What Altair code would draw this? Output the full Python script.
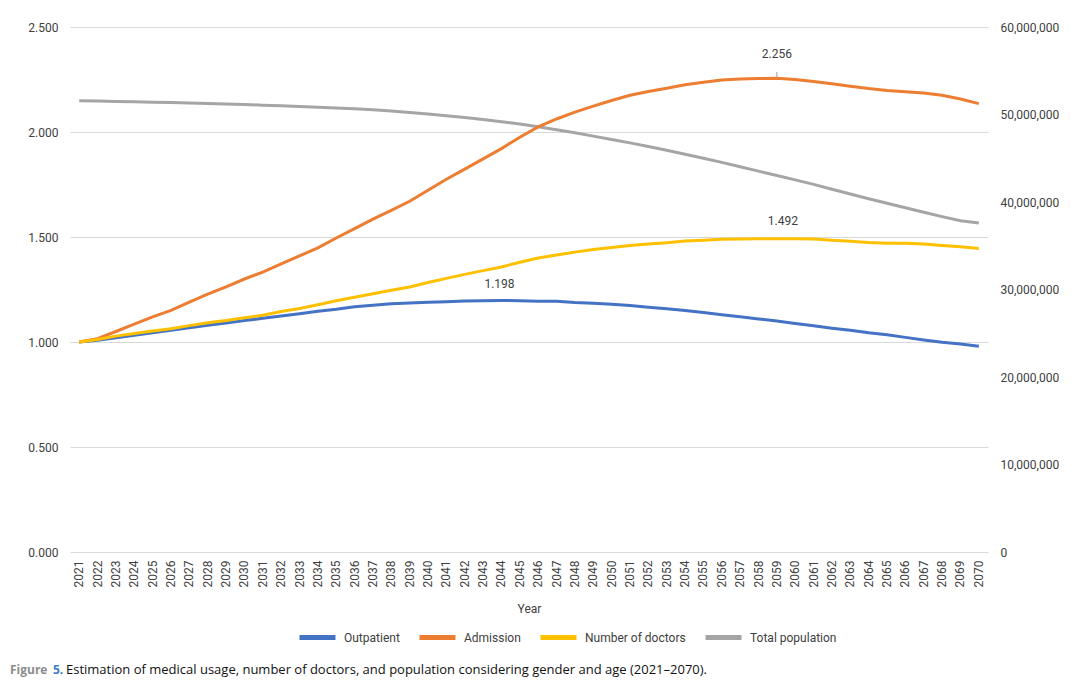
import altair as alt
import pandas as pd

years = list(range(2021, 2071))

outpatient = [1.000, 1.008, 1.020, 1.032, 1.044, 1.056, 1.068, 1.080, 1.090, 1.102,
              1.113, 1.124, 1.135, 1.146, 1.156, 1.168, 1.175, 1.182, 1.186, 1.189,
              1.192, 1.195, 1.196, 1.198, 1.196, 1.194, 1.194, 1.188, 1.185, 1.180,
              1.174, 1.166, 1.158, 1.150, 1.141, 1.130, 1.120, 1.110, 1.100, 1.088,
              1.077, 1.066, 1.056, 1.044, 1.034, 1.022, 1.010, 0.999, 0.990, 0.980]

admission = [1.000, 1.016, 1.050, 1.085, 1.120, 1.151, 1.190, 1.228, 1.263, 1.300,
             1.333, 1.372, 1.410, 1.448, 1.495, 1.540, 1.585, 1.627, 1.670, 1.723,
             1.775, 1.823, 1.872, 1.921, 1.975, 2.024, 2.062, 2.095, 2.123, 2.150,
             2.175, 2.193, 2.208, 2.225, 2.237, 2.248, 2.252, 2.255, 2.256, 2.250,
             2.240, 2.230, 2.218, 2.207, 2.198, 2.192, 2.186, 2.175, 2.157, 2.135]

doctors = [1.000, 1.012, 1.028, 1.040, 1.052, 1.063, 1.078, 1.092, 1.102, 1.115,
           1.127, 1.145, 1.160, 1.177, 1.196, 1.213, 1.230, 1.246, 1.262, 1.283,
           1.303, 1.322, 1.340, 1.357, 1.380, 1.400, 1.414, 1.428, 1.440, 1.450,
           1.460, 1.467, 1.473, 1.481, 1.485, 1.489, 1.491, 1.492, 1.492, 1.492,
           1.490, 1.484, 1.480, 1.474, 1.470, 1.470, 1.467, 1.460, 1.453, 1.445]

population = [51560000, 51540000, 51490000, 51450000, 51410000, 51360000, 51310000, 51260000, 51210000, 51140000,
              51070000, 50990000, 50910000, 50830000, 50750000, 50660000, 50530000, 50390000, 50230000, 50060000,
              49860000, 49660000, 49430000, 49180000, 48910000, 48590000, 48260000, 47910000, 47530000, 47150000,
              46760000, 46340000, 45910000, 45460000, 45010000, 44530000, 44030000, 43530000, 43030000, 42530000,
              42010000, 41460000, 40910000, 40380000, 39860000, 39340000, 38830000, 38330000, 37860000, 37590000]

series_names = ["Outpatient", "Admission", "Number of doctors", "Total population"]
series_colors = ["#4472C4", "#ED7D31", "#FFC000", "#A5A5A5"]

left_ticks = [0.0, 0.5, 1.0, 1.5, 2.0, 2.5]
right_ticks = [0, 10000000, 20000000, 30000000, 40000000, 50000000, 60000000]

label_years = [2044, 2059, 2059]
label_values = [1.198, 1.492, 2.256]
label_texts = ["1.198", "1.492", "2.256"]

caption_lead = ["Figure", "5."]
caption_text = "Estimation of medical usage, number of doctors, and population considering gender and age (2021\u20132070)."

left_df = pd.concat([
    pd.DataFrame({"Year": years, "Value": outpatient, "Series": series_names[0]}),
    pd.DataFrame({"Year": years, "Value": admission, "Series": series_names[1]}),
    pd.DataFrame({"Year": years, "Value": doctors, "Series": series_names[2]}),
], ignore_index=True)
pop_df = pd.DataFrame({"Year": years, "Value": population, "Series": series_names[3]})
lab_df = pd.DataFrame({"Year": label_years, "Value": label_values, "Label": label_texts})

FONT = "Roboto"
TXT = "#404040"

x_enc = alt.X("Year:O", title="Year",
              axis=alt.Axis(labelAngle=-90, labelAlign="right", labelBaseline="middle",
                            labelPadding=8, ticks=False, domain=False, grid=False,
                            labelFont=FONT, labelFontSize=12, labelColor=TXT,
                            titleFont=FONT, titleFontSize=12, titleFontWeight="normal",
                            titleColor=TXT, titlePadding=17))

color_enc = alt.Color("Series:N",
                      scale=alt.Scale(domain=series_names, range=series_colors),
                      legend=alt.Legend(title=None, orient="none", direction="horizontal",
                                        legendX=227, legendY=590, gridAlign="none",
                                        symbolType="stroke", symbolSize=1296,
                                        symbolStrokeWidth=5, labelFont=FONT,
                                        labelFontSize=12, labelColor=TXT,
                                        labelOffset=6, columnPadding=9))

left_scale = alt.Scale(domain=[0, 2.5], nice=False, zero=True)

left_lines = alt.Chart(left_df).mark_line(strokeWidth=3).encode(
    x=x_enc,
    y=alt.Y("Value:Q", scale=left_scale,
            axis=alt.Axis(title=None, values=left_ticks, format=".3f", grid=True,
                          gridColor="#d9d9d9", gridWidth=1, ticks=False, domain=False,
                          labelFont=FONT, labelFontSize=12, labelColor=TXT,
                          labelPadding=12)),
    color=color_enc,
)

def peak_label(i, dx, dy):
    d = lab_df.iloc[[i]]
    return alt.Chart(d).mark_text(font=FONT, fontSize=12, color=TXT, dx=dx, dy=dy).encode(
        x=alt.X("Year:O"), y=alt.Y("Value:Q", scale=left_scale), text="Label:N")

leader = alt.Chart(lab_df.iloc[[2]]).mark_rule(color="#a0a0a0", strokeWidth=1).encode(
    x=alt.X("Year:O"), y=alt.Y("Value:Q", scale=left_scale), y2=alt.value(45))

left_group = alt.layer(left_lines, peak_label(0, -2, -16), peak_label(1, 6, -18),
                       peak_label(2, 0, -24), leader)

pop_line = alt.Chart(pop_df).mark_line(strokeWidth=3).encode(
    x=x_enc,
    y=alt.Y("Value:Q", scale=alt.Scale(domain=[0, 60000000], nice=False),
            axis=alt.Axis(orient="right", title=None, values=right_ticks, format=",.0f",
                          grid=False, ticks=False, domain=False, labelFont=FONT,
                          labelFontSize=12, labelColor=TXT, labelPadding=12)),
    color=color_enc,
)

cap1 = alt.Chart(pd.DataFrame({"t": [caption_lead[0]]})).mark_text(
    align="left", baseline="middle", font="Open Sans", fontSize=12, fontWeight="bold",
    color="#8c8c8c").encode(x=alt.value(-60), y=alt.value(643), text="t:N")
cap2 = alt.Chart(pd.DataFrame({"t": [caption_lead[1]]})).mark_text(
    align="left", baseline="middle", font="Open Sans", fontSize=12, fontWeight="bold",
    color="#3d7fc4").encode(x=alt.value(-17), y=alt.value(643), text="t:N")
cap3 = alt.Chart(pd.DataFrame({"t": [caption_text]})).mark_text(
    align="left", baseline="middle", font="Open Sans", fontSize=13, color="#111111").encode(
    x=alt.value(-4), y=alt.value(643), text="t:N")

chart = alt.layer(pop_line, left_group, cap1, cap2, cap3).resolve_scale(
    y="independent"
).properties(
    width=918, height=525,
    autosize=alt.AutoSizeParams(type="none"),
    padding={"left": 62, "top": 19, "right": 75, "bottom": 128},
    background="white",
).configure_view(stroke=None)

chart.save("out.html", embed_options={"renderer": "svg", "actions": False})
